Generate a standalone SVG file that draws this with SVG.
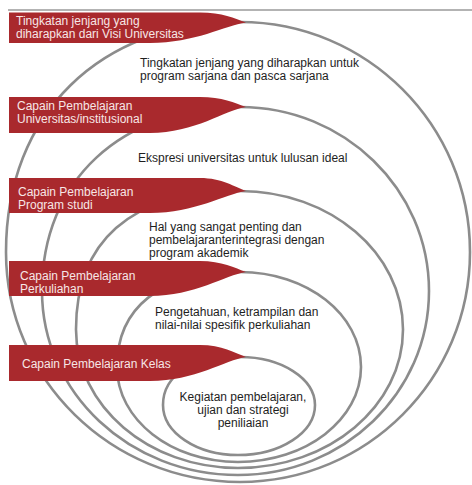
<svg xmlns="http://www.w3.org/2000/svg" width="472" height="485" viewBox="0 0 472 485">
<style>
.ring{fill:none;stroke:#8c8c8c;stroke-width:2.6}
.banner{fill:#a9292d}
.bt{font-family:"Liberation Sans",Arial,sans-serif;font-size:12px;fill:#f7e6e6}
.tx{font-family:"Liberation Sans",Arial,sans-serif;font-size:12px;fill:#1e1e1e}
.mid{text-anchor:middle}
</style>
<rect width="472" height="485" fill="#ffffff"/>
<line x1="8" y1="10" x2="472" y2="10" stroke="#9a9a9a" stroke-width="1.5"/>
<g id="connectors">
<path class="ring" d="M240,22 C367,22 470,125 470,252 C470,379 367,482 240,482 C111,482 6,379 6,252 C6,114 100,22 240,22 Z"/>
<path class="ring" d="M240,107 C344,107 429,189 429,291 C429,393 343.5,475 238,475 C129.7,475 42,393 42,291 C42,180.6 121,107 240,107 Z"/>
<path class="ring" d="M240,191 C330,191 403,253 403,329.5 C403,406 329,468 238,468 C148.5,468 76,406 76,329.5 C76,243.6 128,191 240,191 Z"/>
<path class="ring" d="M240,272 C307,272 361,314.5 361,367 C361,419.5 306,462 238,462 C171,462 117,419.5 117,367 C117,308 160,272 240,272 Z"/>
<path class="ring" d="M240,357 C281.4,357 315,378.5 315,405 C315,432.6 280.5,455 238,455 C196.6,455 163,432.6 163,405 C163,375 192,357 240,357 Z"/>
</g>
<g id="level1">
<path class="banner" d="M9,12.5 H200 C222,12.5 235,18.5 246,22.5 C225,25.5 195,43 150,43 H9 Z"/>
<text class="bt" x="16" y="25">Tingkatan jenjang yang</text>
<text class="bt" x="16" y="38">diharapkan dari Visi Universitas</text>
<text class="tx" x="140" y="67">Tingkatan jenjang yang diharapkan untuk</text>
<text class="tx" x="140" y="80">program sarjana dan pasca sarjana</text>
</g>
<g id="level2">
<path class="banner" d="M9,97 H200 C222,97 235,103 246,107 C225,110 195,133 150,133 H9 Z"/>
<text class="bt" x="17" y="110">Capain Pembelajaran</text>
<text class="bt" x="17" y="123">Universitas/institusional</text>
<text class="tx" x="138" y="162">Ekspresi universitas untuk lulusan ideal</text>
</g>
<g id="level3">
<path class="banner" d="M9,178 H200 C222,178 235,187 246,191 C225,194 195,213 150,213 H9 Z"/>
<text class="bt" x="18" y="196">Capain Pembelajaran</text>
<text class="bt" x="18" y="209">Program studi</text>
<text class="tx" x="149" y="231">Hal yang sangat penting dan</text>
<text class="tx" x="149" y="244">pembelajaranterintegrasi dengan</text>
<text class="tx" x="149" y="257">program akademik</text>
</g>
<g id="level4">
<path class="banner" d="M9,261 H200 C222,261 235,268 246,272 C225,275 195,296 150,296 H9 Z"/>
<text class="bt" x="20" y="280">Capain Pembelajaran</text>
<text class="bt" x="20" y="293">Perkuliahan</text>
<text class="tx" x="155" y="316">Pengetahuan, ketrampilan dan</text>
<text class="tx" x="155" y="329">nilai-nilai spesifik perkuliahan</text>
</g>
<g id="level5">
<path class="banner" d="M9,345 H200 C222,345 235,353 246,357 C225,360 195,381 150,381 H9 Z"/>
<text class="bt" x="22" y="368">Capain Pembelajaran Kelas</text>
<text class="tx mid" x="243" y="401">Kegiatan pembelajaran,</text>
<text class="tx mid" x="243" y="414">ujian dan strategi</text>
<text class="tx mid" x="243" y="427">peniliaian</text>
</g>
</svg>
